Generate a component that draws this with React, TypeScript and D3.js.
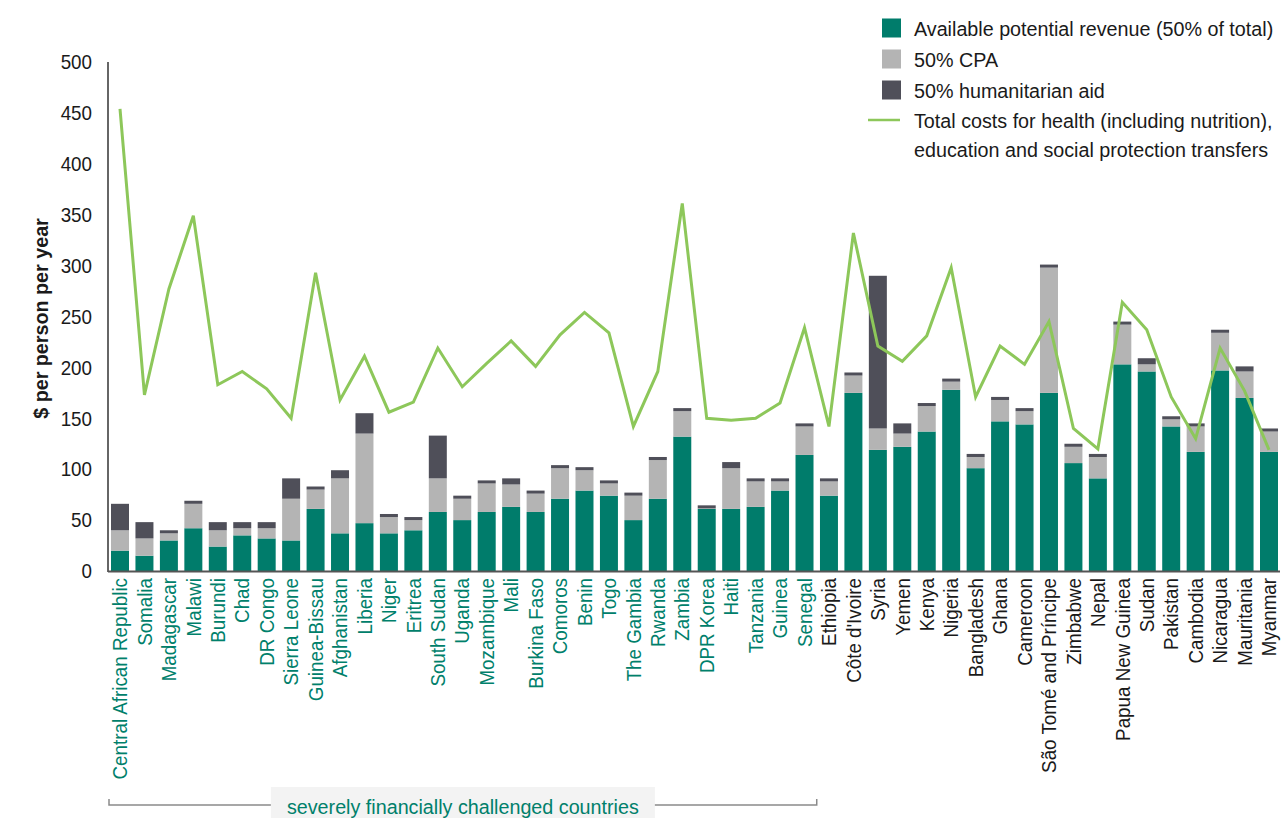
import { useEffect, useRef } from "react";
import * as d3 from "d3";

const countries = [
  "Central African Republic", "Somalia", "Madagascar", "Malawi", "Burundi", "Chad", "DR Congo",
  "Sierra Leone", "Guinea-Bissau", "Afghanistan", "Liberia", "Niger", "Eritrea", "South Sudan",
  "Uganda", "Mozambique", "Mali", "Burkina Faso", "Comoros", "Benin", "Togo", "The Gambia",
  "Rwanda", "Zambia", "DPR Korea", "Haiti", "Tanzania", "Guinea", "Senegal", "Ethiopia",
  "Côte d'Ivoire", "Syria", "Yemen", "Kenya", "Nigeria", "Bangladesh", "Ghana", "Cameroon",
  "São Tomé and Príncipe", "Zimbabwe", "Nepal", "Papua New Guinea", "Sudan", "Pakistan",
  "Cambodia", "Nicaragua", "Mauritania", "Myanmar",
];

// number of leading countries that are "severely financially challenged"
const challengedCount = 29;

const revenue = [
  20, 15, 30, 42, 24, 35, 32, 30, 61, 37, 47, 37, 40, 58, 50, 58, 63, 58, 71, 79, 74, 50, 71, 132,
  61, 61, 63, 79, 114, 74, 175, 119, 122, 137, 178, 101, 147, 144, 175, 106, 91, 203, 196, 142,
  117, 197, 170, 117,
];
const cpa = [
  20, 17, 7, 24, 16, 7, 10, 41, 19, 54, 88, 16, 10, 33, 21, 28, 22, 18, 30, 20, 12, 24, 38, 25,
  0.5, 40, 25, 9, 28, 14, 17, 21, 13, 25, 8, 11, 21, 13, 123, 16, 21, 39, 7, 7, 25, 37, 26, 20,
];
const humanitarian = [
  26, 16, 3, 3, 8, 6, 6, 20, 3, 8, 20, 3, 3, 42, 3, 3, 6, 3, 3, 3, 3, 3, 3, 3, 3, 6, 3, 3, 3, 3,
  3, 150, 10, 3, 3, 3, 3, 3, 3, 3, 3, 3, 6, 3, 3, 3, 5, 3,
];
const totalCosts = [
  454, 173, 277, 349, 183, 196, 179, 150, 293, 168, 211, 156, 166, 219, 181, 204, 226, 201, 232,
  254, 234, 142, 196, 361, 150, 148, 150, 165, 239, 142, 332, 221, 206, 231, 298, 171, 221, 203,
  245, 140, 120, 264, 237, 171, 130, 219, 177, 119,
];

const yTicks = [0, 50, 100, 150, 200, 250, 300, 350, 400, 450, 500];

const seriesKeys = ["revenue", "cpa", "humanitarian"];
const seriesColors: Record<string, string> = {
  revenue: "#007c6b",
  cpa: "#b4b4b4",
  humanitarian: "#4f4f59",
};
const legendItems = [
  { label: "Available potential revenue (50% of total)", color: "#007c6b" },
  { label: "50% CPA", color: "#b4b4b4" },
  { label: "50% humanitarian aid", color: "#4f4f59" },
];
const lineColor = "#8dc75a";
const labelGreen = "#00806b";
const font = "'Liberation Sans', Arial, sans-serif";
// the original uses a condensed face, so squeeze text horizontally
const squeeze = 0.94;

export default function App() {
  const svgRef = useRef<SVGSVGElement>(null);

  useEffect(() => {
    if (!svgRef.current) return;
    const svg = d3.select(svgRef.current);
    svg.selectAll("*").remove();

    const left = 108;
    const right = 1281;
    const top = 62;
    const bottom = 571;

    const rows = countries.map((c, i) => ({
      country: c,
      revenue: revenue[i],
      cpa: cpa[i],
      humanitarian: humanitarian[i],
      total: totalCosts[i],
    }));

    const x = d3.scaleBand<string>().domain(countries).range([left, right])
      .paddingInner(0.264).paddingOuter(0.123);
    const y = d3.scaleLinear().domain([0, 500]).range([bottom, top]);

    const stack = d3.stack<any>().keys(seriesKeys);
    const layers = stack(rows);

    const g = svg.append("g").attr("font-family", font);

    const label = (tx: number, ty: number, rot: number, text: string, size: number, anchor: string,
      fill = "#1a1a1a", weight = "normal") =>
      g.append("text")
        .attr("transform", `translate(${tx},${ty}) rotate(${rot}) scale(${squeeze},1)`)
        .attr("text-anchor", anchor)
        .attr("dy", "0.36em")
        .attr("font-size", `${size}px`)
        .attr("font-weight", weight)
        .attr("fill", fill)
        .text(text);

    // bars
    g.selectAll("g.layer")
      .data(layers)
      .enter()
      .append("g")
      .attr("class", "layer")
      .attr("fill", (d) => seriesColors[d.key])
      .selectAll("rect")
      .data((d) => d)
      .enter()
      .append("rect")
      .attr("x", (d) => x(d.data.country)!)
      .attr("width", x.bandwidth())
      .attr("y", (d) => y(d[1]))
      .attr("height", (d) => Math.max(0, y(d[0]) - y(d[1])));

    // axes lines
    g.append("line").attr("x1", left).attr("x2", left).attr("y1", top).attr("y2", bottom + 1)
      .attr("stroke", "#333").attr("stroke-width", 1.5);
    g.append("line").attr("x1", left).attr("x2", right - 1).attr("y1", bottom + 0.5).attr("y2", bottom + 0.5)
      .attr("stroke", "#555").attr("stroke-width", 2);

    // total costs line
    const line = d3.line<any>()
      .x((d) => x(d.country)! + x.bandwidth() / 2)
      .y((d) => y(d.total));
    g.append("path").datum(rows).attr("d", line).attr("fill", "none")
      .attr("stroke", lineColor).attr("stroke-width", 3).attr("stroke-linejoin", "miter");

    // y ticks
    yTicks.forEach((t) => label(92, y(t), 0, String(t), 20, "end"));

    label(40, (top + bottom) / 2 + 2, -90, "$ per person per year", 21, "middle", "#1a1a1a", "bold");

    // x labels
    countries.forEach((c, i) =>
      label(x(c)! + x.bandwidth() / 2, bottom + 7, -90, c, 20, "end",
        i < challengedCount ? labelGreen : "#1a1a1a"));

    // bracket for challenged countries
    const bx1 = left + 1;
    const bx2 = x(countries[challengedCount - 1])! + x.bandwidth() / 2 + x.step() / 2;
    const by = 805;
    g.append("path")
      .attr("d", `M${bx1},${by - 6}V${by}H${bx2}V${by - 6}`)
      .attr("fill", "none").attr("stroke", "#8a8a8a").attr("stroke-width", 1.5);
    const bmid = (bx1 + bx2) / 2;
    g.append("rect").attr("x", bmid - 192).attr("y", 787).attr("width", 384).attr("height", 31)
      .attr("fill", "#f3f3f3");
    label(bmid, 806, 0, "severely financially challenged countries", 21, "middle", labelGreen);

    // legend
    legendItems.forEach((item, i) => {
      const cy = 28 + i * 31;
      g.append("rect").attr("x", 882).attr("y", cy - 9.5).attr("width", 19).attr("height", 19)
        .attr("fill", item.color);
      label(914, cy, 0, item.label, 21, "start");
    });
    g.append("line").attr("x1", 868).attr("x2", 900).attr("y1", 120).attr("y2", 120)
      .attr("stroke", lineColor).attr("stroke-width", 2.5);
    label(914, 120, 0, "Total costs for health (including nutrition),", 21, "start");
    label(914, 149, 0, "education and social protection transfers", 21, "start");
  }, []);

  return (
    <svg
      ref={svgRef}
      width={1282}
      height={818}
      style={{ position: "absolute", left: 0, top: 0, background: "#fff" }}
    />
  );
}
